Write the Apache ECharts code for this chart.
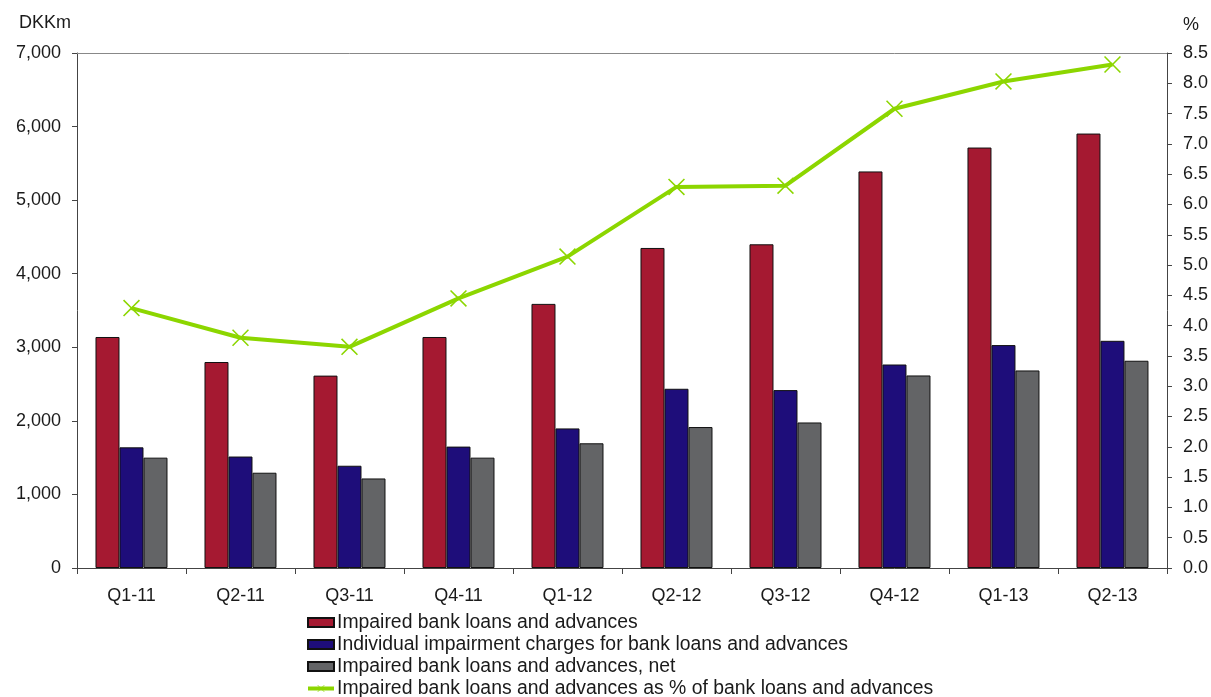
<!DOCTYPE html>
<html>
<head>
<meta charset="utf-8">
<script src="https://cdn.jsdelivr.net/npm/echarts@6/dist/echarts.min.js"></script>
<style>
html,body{margin:0;padding:0;background:#fff;}
#chart{width:1211px;height:697px;}
</style>
</head>
<body>
<div id="chart"></div>
<script>
const categories = ['Q1-11','Q2-11','Q3-11','Q4-11','Q1-12','Q2-12','Q3-12','Q4-12','Q1-13','Q2-13'];
const impaired = [3140, 2800, 2615, 3140, 3590, 4350, 4400, 5390, 5715, 5905];
const individualCharges = [1640, 1515, 1390, 1650, 1897, 2436, 2418, 2766, 3030, 3088];
const impairedNet = [1500, 1295, 1217, 1500, 1695, 1916, 1978, 2617, 2685, 2817];
const impairedPct = [4.29, 3.80, 3.65, 4.45, 5.14, 6.29, 6.31, 7.58, 8.03, 8.31];
const seriesNames = [
  'Impaired bank loans and advances',
  'Individual impairment charges for bank loans and advances',
  'Impaired bank loans and advances, net',
  'Impaired bank loans and advances as % of bank loans and advances'
];

const FONT = '"Liberation Sans", Arial, sans-serif';
const FS = 18;
const TXT = '#1a1a1a';
const xSymbol = 'path://M0,1.3L1.3,0L10,8.7L18.7,0L20,1.3L11.3,10L20,18.7L18.7,20L10,11.3L1.3,20L0,18.7L8.7,10Z';

const chart = echarts.init(document.getElementById('chart'), null, {renderer: 'canvas'});
const barStyle = c => ({color: c, borderColor: '#111', borderWidth: 1});

chart.setOption({
  animation: false,
  backgroundColor: '#fff',
  textStyle: {fontFamily: FONT},
  grid: {left: 77, right: 44, top: 53, bottom: 129, containLabel: false},
  legend: {
    orient: 'vertical',
    left: 306, top: 613, height: 90, padding: 0,
    itemWidth: 26, itemHeight: 9, itemGap: 3,
    textStyle: {fontFamily: FONT, fontSize: 19.4, color: TXT, lineHeight: 18, padding: [0,0,0,-2]},
    data: [
      {name: seriesNames[0], icon: 'rect'},
      {name: seriesNames[1], icon: 'rect'},
      {name: seriesNames[2], icon: 'rect'},
      {name: seriesNames[3], lineStyle: {width: 4, color: '#8CD600'}}
    ]
  },
  xAxis: [
    {
      type: 'category', data: categories, position: 'bottom',
      axisLine: {show: true, onZero: false, lineStyle: {color: '#444', width: 1}},
      axisTick: {show: true, length: 6, lineStyle: {color: '#444'}},
      axisLabel: {fontFamily: FONT, fontSize: FS, color: TXT, margin: 19},
      splitLine: {show: false}
    },
    {
      type: 'category', data: categories, position: 'top',
      axisLine: {show: true, onZero: false, lineStyle: {color: '#888', width: 1}},
      axisTick: {show: false}, axisLabel: {show: false}, splitLine: {show: false}
    }
  ],
  yAxis: [
    {
      type: 'value', min: 0, max: 7000, interval: 1000, position: 'left',
      name: 'DKKm', nameLocation: 'end', nameGap: 30,
      nameTextStyle: {fontFamily: FONT, fontSize: FS, color: TXT, align: 'right', verticalAlign: 'middle', padding: [0, 6, 0, 0]},
      axisLine: {show: true, onZero: false, lineStyle: {color: '#444', width: 1}},
      axisTick: {show: true, inside: false, length: 5, lineStyle: {color: '#444'}},
      axisLabel: {fontFamily: FONT, fontSize: FS, color: TXT, margin: 16,
        formatter: v => v.toLocaleString('en-US')},
      splitLine: {show: false}
    },
    {
      type: 'value', min: 0, max: 8.5, interval: 0.5, position: 'right',
      name: '%', nameLocation: 'end', nameGap: 28,
      nameTextStyle: {fontFamily: FONT, fontSize: FS, color: TXT, align: 'left', verticalAlign: 'middle', padding: [0, 0, 0, 16]},
      axisLine: {show: true, onZero: false, lineStyle: {color: '#444', width: 1}},
      axisTick: {show: true, inside: false, length: 5, lineStyle: {color: '#444'}},
      axisLabel: {fontFamily: FONT, fontSize: FS, color: TXT, margin: 16,
        formatter: v => v.toFixed(1)},
      splitLine: {show: false}
    }
  ],
  series: [
    {name: seriesNames[0], type: 'bar', data: impaired, barWidth: 24, barGap: '0%', itemStyle: barStyle('#A51931')},
    {name: seriesNames[1], type: 'bar', data: individualCharges, barWidth: 24, barGap: '0%', itemStyle: barStyle('#1E0D7A')},
    {name: seriesNames[2], type: 'bar', data: impairedNet, barWidth: 24, barGap: '0%', itemStyle: barStyle('#636466')},
    {name: seriesNames[3], type: 'line', yAxisIndex: 1, data: impairedPct,
     symbol: xSymbol, symbolSize: 17, showAllSymbol: true,
     lineStyle: {color: '#8CD600', width: 4},
     itemStyle: {color: '#8CD600', borderWidth: 0},
     z: 5}
  ]
});
</script>
</body>
</html>
